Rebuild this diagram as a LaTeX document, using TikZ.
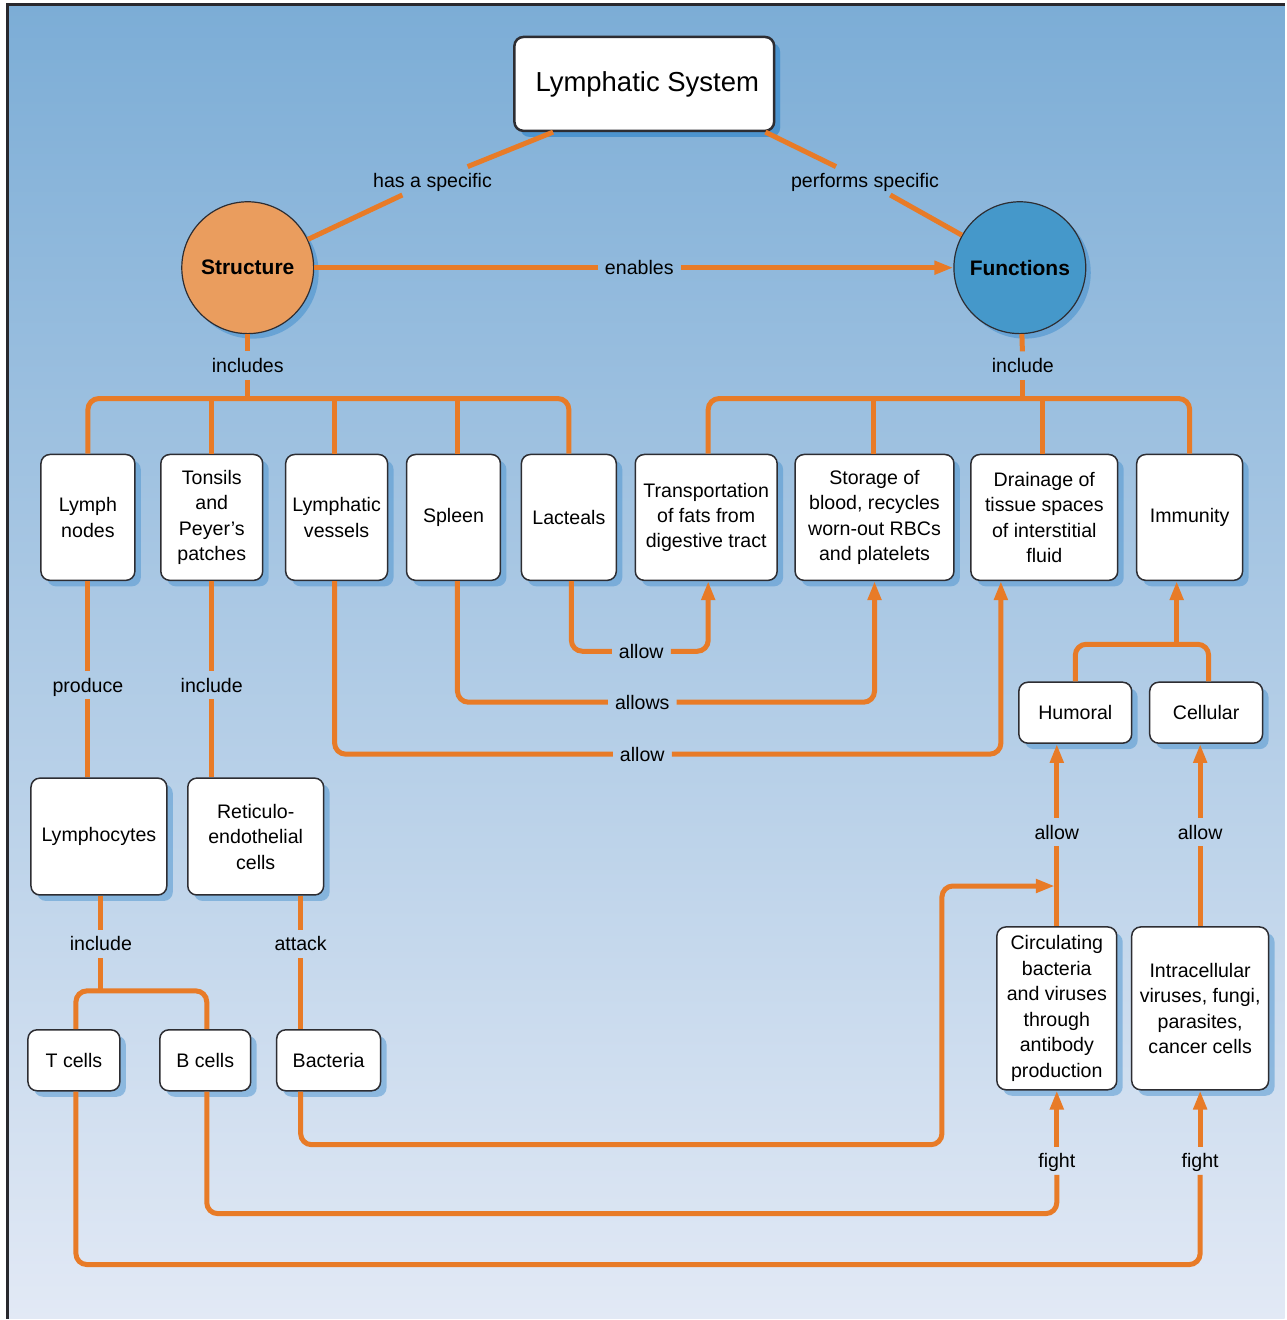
\documentclass[tikz,border=0pt]{standalone}
\usepackage{fontspec}
\setmainfont{Liberation Sans}
\usetikzlibrary{arrows.meta,shadows}
\definecolor{lineor}{RGB}{232,123,39}
\definecolor{bgtop}{RGB}{124,173,214}
\definecolor{bgbot}{RGB}{226,233,245}
\definecolor{frame}{RGB}{40,40,45}
\definecolor{boxline}{RGB}{45,45,50}
\definecolor{shadowblue}{RGB}{74,147,207}
\definecolor{structfill}{RGB}{234,157,94}
\definecolor{funcfill}{RGB}{69,152,202}
\begin{document}
\begin{tikzpicture}[x=1pt,y=-1pt,
  conn/.style={draw=lineor, line width=5pt, rounded corners=11pt},
  arr/.style={conn, -{Triangle[length=19pt,width=13pt]}},
  box/.style={draw=boxline, line width=1.5pt, fill=white, rounded corners=9pt,
    align=center, inner sep=0pt, font=\fontsize{19.6}{25.5}\selectfont,
    drop shadow={shadow xshift=6pt, shadow yshift=-6pt, fill=shadowblue, opacity=.5}},
  circ/.style={circle, draw=boxline, line width=1.2pt, minimum size=132pt, inner sep=0pt,
    font=\bfseries\fontsize{21}{25}\selectfont,
    drop shadow={shadow xshift=5pt, shadow yshift=-5pt, fill=shadowblue, opacity=.6}},
  lbl/.style={inner xsep=7pt, inner ysep=4pt, text height=17pt, text depth=3pt,
    font=\fontsize{19.6}{24}\selectfont}
]
% background
\fill[white] (0,0) rectangle (1286,1320);
\shade[top color=bgtop, bottom color=bgbot] (8,5) rectangle (1286,1320);
\draw[line width=3pt, draw=frame] (8,1320) -- (8,5) -- (1286,5);
\useasboundingbox (0,0) rectangle (1286,1320);

% top level
\node[box, line width=2.5pt, minimum width=260pt, minimum height=94pt,
  font=\fontsize{27.5}{32}\selectfont,
  drop shadow={shadow xshift=6pt, shadow yshift=-6pt, fill=shadowblue, opacity=.9}]
  (Title) at (645,84) {\hspace*{6pt}Lymphatic System};
\node[circ, fill=structfill] (Structure) at (248,268) {Structure};
\node[circ, fill=funcfill] (Functions) at (1021,268) {Functions};

% labels
\node[lbl] (lHas) at (433,181) {has a specific};
\node[lbl] (lPerf) at (866,181) {performs specific};
\node[lbl] (lEn) at (640,268) {enables};
\node[lbl] (lIncs) at (248,366) {includes};
\node[lbl] (lIncR) at (1024,366) {include};
\node[lbl] (lProd) at (88,686) {produce};
\node[lbl] (lIncT) at (212,686) {include};
\node[lbl] (lA1) at (642,652) {allow};
\node[lbl] (lA2) at (643,703) {allows};
\node[lbl] (lA3) at (643,755) {allow};
\node[lbl] (lA4) at (1058,833) {allow};
\node[lbl] (lA5) at (1201.5,833) {allow};
\node[lbl] (lIncL) at (101,945) {include};
\node[lbl] (lAtt) at (301,945) {attack};
\node[lbl] (lF1) at (1058,1162) {fight};
\node[lbl] (lF2) at (1201.5,1162) {fight};

% row of boxes
\node[box, minimum width=94pt, minimum height=126pt] (Lymph) at (88,518) {Lymph\\nodes};
\node[box, minimum width=102pt, minimum height=126pt] (Tonsils) at (212,518) {Tonsils\\and\\Peyer’s\\patches};
\node[box, minimum width=102pt, minimum height=126pt] (LymphVes) at (337,518) {Lymphatic\\vessels};
\node[box, minimum width=94pt, minimum height=126pt] (Spleen) at (454,518) {Spleen};
\node[box, minimum width=95pt, minimum height=126pt] (Lacteals) at (569.5,518) {Lacteals};
\node[box, minimum width=142pt, minimum height=126pt] (Transport) at (707,518) {Transportation\\of fats from\\digestive tract};
\node[box, minimum width=159pt, minimum height=126pt] (Storage) at (875.5,518) {Storage of\\blood, recycles\\worn-out RBCs\\and platelets};
\node[box, minimum width=147pt, minimum height=126pt] (Drainage) at (1045.5,518) {Drainage of\\tissue spaces\\of interstitial\\fluid};
\node[box, minimum width=106pt, minimum height=126pt] (Immunity) at (1191,518) {Immunity};

\node[box, minimum width=113pt, minimum height=61pt] (Humoral) at (1076.5,713.5) {Humoral};
\node[box, minimum width=113pt, minimum height=61pt] (Cellular) at (1207.5,713.5) {Cellular};

\node[box, minimum width=136pt, minimum height=117pt] (Lympho) at (99,837.5) {Lymphocytes};
\node[box, minimum width=136pt, minimum height=117pt] (Reticulo) at (256,837.5) {Reticulo-\\endothelial\\cells};

\node[box, minimum width=92pt, minimum height=61pt] (Tcells) at (74,1061.5) {T cells};
\node[box, minimum width=91pt, minimum height=61pt] (Bcells) at (205.5,1061.5) {B cells};
\node[box, minimum width=104pt, minimum height=61pt] (Bacteria) at (329,1061.5) {Bacteria};

\node[box, minimum width=120pt, minimum height=163pt] (Circ) at (1058,1009.5) {Circulating\\bacteria\\and viruses\\through\\antibody\\production};
\node[box, minimum width=137pt, minimum height=163pt] (Intra) at (1201.5,1009.5) {Intracellular\\viruses, fungi,\\parasites,\\cancer cells};

% helper coordinates
\coordinate (busy) at (0,399);
\coordinate (hcy) at (0,645);
\coordinate (immx) at (1178,0);
\coordinate (tly) at (0,992);
\coordinate (bcy) at (0,1215);
\coordinate (tcy) at (0,1266);
\coordinate (bend) at (943,1146);
\coordinate (join) at (1056,887);

% top connectors
\draw[conn] ([xshift=40pt]Title.south west) -- (lHas);
\draw[conn] (lHas) -- (Structure);
\draw[conn] ([xshift=-10pt]Title.south east) -- (lPerf);
\draw[conn] (lPerf) -- (Functions);
\draw[conn] (Structure) -- (lEn);
\draw[arr] (lEn) -- (Functions);

% structure bus
\draw[conn] (Structure) -- (lIncs);
\draw[conn] (lIncs) -- (lIncs |- busy);
\draw[conn] (Lymph.north) |- (Lacteals.north |- busy) -- (Lacteals.north);
\draw[conn] (Tonsils.north) -- (Tonsils.north |- busy);
\draw[conn] ([xshift=-2pt]LymphVes.north) -- ([xshift=-2pt]LymphVes.north |- busy);
\draw[conn] ([xshift=4pt]Spleen.north) -- ([xshift=4pt]Spleen.north |- busy);

% functions bus
\draw[conn] (Functions) -- (lIncR);
\draw[conn] (lIncR) -- (lIncR |- busy);
\draw[conn] ([xshift=2pt]Transport.north) |- (Immunity.north |- busy) -- (Immunity.north);
\draw[conn] ([xshift=-1.5pt]Storage.north) -- ([xshift=-1.5pt]Storage.north |- busy);
\draw[conn] ([xshift=-1.5pt]Drainage.north) -- ([xshift=-1.5pt]Drainage.north |- busy);

% allow connectors
\draw[conn] ([xshift=2.5pt]Lacteals.south) |- (lA1.west);
\draw[arr] (lA1.east) -| ([xshift=2pt]Transport.south);
\draw[conn] ([xshift=4pt]Spleen.south) |- (lA2.west);
\draw[arr] (lA2.east) -| (Storage.south);
\draw[conn] ([xshift=-2pt]LymphVes.south) |- (lA3.west);
\draw[arr] (lA3.east) -| ([xshift=-43.5pt]Drainage.south);

% humoral / cellular
\draw[conn] (Humoral.north) |- ([xshift=2.5pt]Cellular.north |- hcy) -- ([xshift=2.5pt]Cellular.north);
\draw[arr] (immx |- hcy) -- (immx |- Immunity.south);
\draw[conn] (Circ.north) -- (lA4);
\draw[arr] (lA4) -- (Humoral.south -| Circ.north);
\draw[conn] (Intra.north) -- (lA5);
\draw[arr] (lA5) -- (Cellular.south -| Intra.north);

% left column
\draw[conn] (Lymph.south) -- (lProd);
\draw[conn] (lProd) -- (Lymph.south |- Lympho.north);
\draw[conn] (Tonsils.south) -- (lIncT);
\draw[conn] (lIncT) -- (Tonsils.south |- Reticulo.north);
\draw[conn] ([xshift=2pt]Lympho.south) -- (lIncL);
\draw[conn] (lIncL) -- (lIncL |- tly);
\draw[conn] ([xshift=2pt]Tcells.north) |- ([xshift=1.5pt]Bcells.north |- tly) -- ([xshift=1.5pt]Bcells.north);
\draw[conn] (lAtt |- Reticulo.south) -- (lAtt);
\draw[conn] (lAtt) -- (lAtt |- Bacteria.north);

% fight / bacteria connectors
\draw[arr] (lAtt |- Bacteria.south) |- (bend) |- (join);
\draw[conn] ([xshift=1.5pt]Bcells.south) |- (lF1 |- bcy) -- (lF1.south);
\draw[arr] (lF1.north) -- (Circ.south);
\draw[conn] ([xshift=2pt]Tcells.south) |- (lF2 |- tcy) -- (lF2.south);
\draw[arr] (lF2.north) -- (Intra.south);
\end{tikzpicture}
\end{document}
